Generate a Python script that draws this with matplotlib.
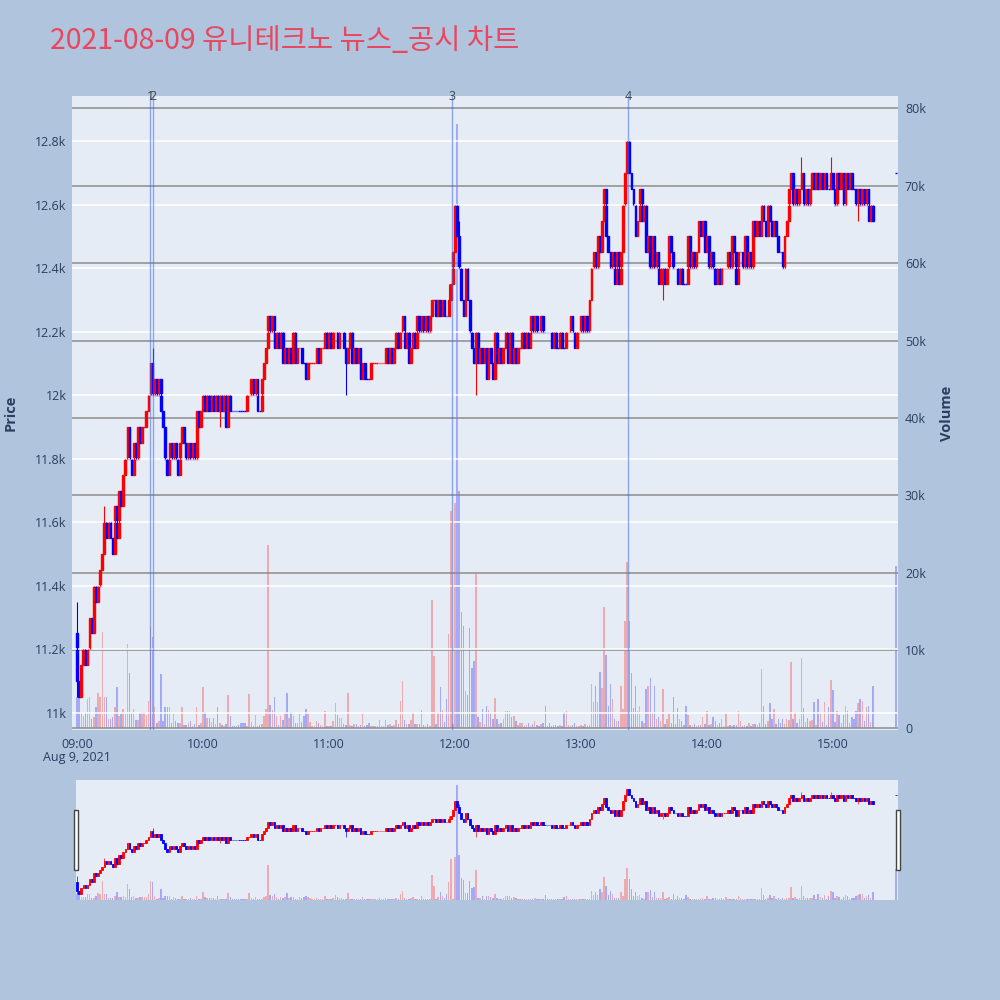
import matplotlib
matplotlib.use('Agg')
import matplotlib.pyplot as plt
from matplotlib.patches import Rectangle
import numpy as np
import pandas as pd

plt.rcParams['font.family'] = ['Open Sans', 'Noto Sans CJK KR', 'DejaVu Sans']

# 1-minute candles, 2021-08-09 09:00 ~ 15:19, plus the 15:30 closing auction
open_px = [
    11250, 11100, 11050, 11150, 11200, 11150, 11200, 11300, 11250, 11400,
    11350, 11400, 11450, 11500, 11600, 11550, 11600, 11550, 11500, 11650,
    11550, 11700, 11650, 11750, 11800, 11900, 11800, 11750, 11850, 11800,
    11900, 11850, 11900, 11900, 11950, 12000, 12100, 12000, 12050, 12000,
    12050, 11950, 11900, 11800, 11750, 11850, 11800, 11850, 11800, 11750,
    11850, 11900, 11850, 11800, 11850, 11800, 11850, 11800, 11950, 11900,
    11950, 12000, 11950, 12000, 11950, 12000, 11950, 12000, 11950, 12000,
    11950, 12000, 11900, 12000, 11950, 11950, 11950, 11950, 11950, 11950,
    11950, 11950, 12000, 12000, 12050, 12000, 12050, 11950, 11950, 12050,
    12100, 12150, 12250, 12200, 12250, 12150, 12200, 12150, 12200, 12100,
    12150, 12100, 12150, 12100, 12200, 12100, 12150, 12150, 12100, 12100,
    12050, 12100, 12100, 12100, 12100, 12150, 12100, 12150, 12150, 12200,
    12150, 12200, 12150, 12200, 12200, 12150, 12200, 12200, 12150, 12100,
    12150, 12200, 12100, 12150, 12100, 12150, 12050, 12100, 12050, 12050,
    12050, 12100, 12100, 12100, 12100, 12100, 12100, 12100, 12150, 12100,
    12150, 12100, 12150, 12200, 12150, 12200, 12250, 12150, 12200, 12100,
    12150, 12200, 12150, 12250, 12200, 12250, 12200, 12250, 12200, 12250,
    12300, 12300, 12250, 12300, 12250, 12300, 12250, 12250, 12300, 12350,
    12450, 12600, 12500, 12400, 12300, 12250, 12400, 12300, 12200, 12150,
    12100, 12200, 12100, 12150, 12100, 12150, 12050, 12150, 12100, 12050,
    12200, 12100, 12150, 12100, 12150, 12200, 12100, 12200, 12100, 12150,
    12100, 12150, 12150, 12200, 12150, 12200, 12150, 12250, 12200, 12250,
    12200, 12200, 12250, 12200, 12200, 12200, 12200, 12150, 12200, 12150,
    12150, 12200, 12150, 12150, 12200, 12200, 12250, 12200, 12150, 12200,
    12200, 12250, 12200, 12250, 12200, 12300, 12400, 12450, 12400, 12500,
    12450, 12550, 12650, 12500, 12450, 12400, 12450, 12350, 12450, 12350,
    12450, 12600, 12700, 12800, 12700, 12650, 12600, 12500, 12550, 12650,
    12550, 12600, 12450, 12500, 12400, 12500, 12400, 12450, 12350, 12400,
    12400, 12350, 12400, 12500, 12450, 12400, 12400, 12350, 12400, 12350,
    12350, 12350, 12500, 12400, 12450, 12400, 12450, 12550, 12500, 12550,
    12450, 12500, 12400, 12450, 12400, 12350, 12400, 12350, 12400, 12400,
    12400, 12450, 12400, 12500, 12450, 12350, 12450, 12450, 12400, 12500,
    12400, 12450, 12400, 12550, 12500, 12550, 12500, 12600, 12550, 12500,
    12600, 12550, 12500, 12550, 12500, 12450, 12450, 12400, 12500, 12550,
    12650, 12700, 12600, 12650, 12600, 12650, 12700, 12600, 12650, 12600,
    12650, 12700, 12650, 12700, 12650, 12700, 12650, 12700, 12650, 12650,
    12700, 12650, 12600, 12700, 12650, 12700, 12600, 12700, 12650, 12700,
    12650, 12650, 12600, 12650, 12600, 12650, 12600, 12650, 12550, 12600,
    12700,
]
close_px = [
    11100, 11050, 11150, 11200, 11150, 11200, 11300, 11250, 11400, 11350,
    11400, 11450, 11500, 11600, 11550, 11600, 11550, 11500, 11650, 11550,
    11700, 11650, 11750, 11800, 11900, 11800, 11750, 11850, 11800, 11900,
    11850, 11900, 11900, 11950, 12000, 12100, 12000, 12050, 12000, 12050,
    11950, 11900, 11800, 11750, 11850, 11800, 11850, 11800, 11750, 11850,
    11900, 11850, 11800, 11850, 11800, 11850, 11800, 11950, 11900, 11950,
    12000, 11950, 12000, 11950, 12000, 11950, 12000, 11950, 12000, 11950,
    12000, 11900, 12000, 11950, 11950, 11950, 11950, 11950, 11950, 11950,
    11950, 12000, 12000, 12050, 12000, 12050, 11950, 11950, 12050, 12100,
    12150, 12250, 12200, 12250, 12150, 12200, 12150, 12200, 12100, 12150,
    12100, 12150, 12100, 12200, 12100, 12150, 12150, 12100, 12100, 12050,
    12100, 12100, 12100, 12100, 12150, 12100, 12150, 12150, 12200, 12150,
    12200, 12150, 12200, 12200, 12150, 12200, 12200, 12150, 12100, 12150,
    12200, 12100, 12150, 12100, 12150, 12050, 12100, 12050, 12050, 12050,
    12100, 12100, 12100, 12100, 12100, 12100, 12100, 12150, 12100, 12150,
    12100, 12150, 12200, 12150, 12200, 12250, 12150, 12200, 12100, 12150,
    12200, 12150, 12250, 12200, 12250, 12200, 12250, 12200, 12250, 12300,
    12300, 12250, 12300, 12250, 12300, 12250, 12250, 12300, 12350, 12450,
    12600, 12500, 12400, 12300, 12250, 12400, 12300, 12200, 12150, 12100,
    12200, 12100, 12150, 12100, 12150, 12050, 12150, 12100, 12050, 12200,
    12100, 12150, 12100, 12150, 12200, 12100, 12200, 12100, 12150, 12100,
    12150, 12150, 12200, 12150, 12200, 12150, 12250, 12200, 12250, 12200,
    12200, 12250, 12200, 12200, 12200, 12200, 12150, 12200, 12150, 12150,
    12200, 12150, 12150, 12200, 12200, 12250, 12200, 12150, 12200, 12200,
    12250, 12200, 12250, 12200, 12300, 12400, 12450, 12400, 12500, 12450,
    12550, 12650, 12500, 12450, 12400, 12450, 12350, 12450, 12350, 12450,
    12600, 12700, 12800, 12700, 12650, 12600, 12500, 12550, 12650, 12550,
    12600, 12450, 12500, 12400, 12500, 12400, 12450, 12350, 12400, 12400,
    12350, 12400, 12500, 12450, 12400, 12400, 12350, 12400, 12350, 12350,
    12350, 12500, 12400, 12450, 12400, 12450, 12550, 12500, 12550, 12450,
    12500, 12400, 12450, 12400, 12350, 12400, 12350, 12400, 12400, 12400,
    12450, 12400, 12500, 12450, 12350, 12450, 12450, 12400, 12500, 12400,
    12450, 12400, 12550, 12500, 12550, 12500, 12600, 12550, 12500, 12600,
    12550, 12500, 12550, 12500, 12450, 12450, 12400, 12500, 12550, 12650,
    12700, 12600, 12650, 12600, 12650, 12700, 12600, 12650, 12600, 12650,
    12700, 12650, 12700, 12650, 12700, 12650, 12700, 12650, 12650, 12700,
    12650, 12600, 12700, 12650, 12700, 12600, 12700, 12650, 12700, 12650,
    12650, 12600, 12650, 12600, 12650, 12600, 12650, 12550, 12600, 12550,
    12700,
]
volume = [
    4000, 4000, 2100, 1500, 2000, 3800, 4000, 1200, 1400, 2700,
    4500, 4000, 12400, 4000, 4000, 1200, 1200, 1400, 2700, 5300,
    1600, 1800, 2500, 1800, 10800, 7100, 2000, 2500, 1000, 1000,
    1900, 2100, 2100, 1700, 3500, 13000, 11700, 2700, 600, 900,
    7000, 900, 2700, 2700, 2700, 600, 1900, 900, 600, 600,
    2700, 400, 400, 600, 900, 300, 500, 2700, 400, 600,
    5300, 2100, 1300, 1300, 800, 1250, 500, 2750, 600, 400,
    200, 500, 4200, 1500, 300, 200, 200, 400, 600, 600,
    600, 300, 4400, 800, 200, 1700, 300, 400, 500, 1500,
    2500, 23600, 3000, 2300, 4000, 1500, 400, 1500, 1000, 2100,
    4500, 1250, 2100, 1500, 600, 600, 2100, 800, 1500, 2500,
    1900, 800, 200, 300, 950, 600, 400, 300, 2200, 300,
    200, 300, 950, 3200, 1700, 1250, 1250, 500, 400, 4500,
    400, 260, 500, 500, 300, 400, 1900, 300, 400, 600,
    300, 300, 200, 300, 1000, 300, 200, 1000, 400, 500,
    300, 400, 1000, 500, 3500, 6000, 1000, 500, 500, 1000,
    2100, 500, 500, 500, 2300, 400, 300, 500, 300, 16500,
    9300, 500, 2100, 5300, 2300, 800, 3700, 12100, 28000, 500,
    29000, 78000, 30600, 15000, 13200, 4800, 4200, 12900, 7700, 8600,
    19900, 1400, 800, 2500, 500, 2800, 2300, 1900, 1200, 3900,
    1200, 500, 600, 1200, 2200, 2200, 2200, 1400, 1500, 900,
    400, 700, 700, 300, 400, 700, 300, 500, 900, 400,
    300, 500, 700, 2900, 300, 700, 300, 400, 400, 300,
    400, 300, 2000, 2200, 400, 300, 400, 700, 300, 300,
    400, 300, 500, 300, 400, 5700, 3400, 5400, 3400, 7200,
    5200, 15600, 9400, 2900, 5700, 3700, 1200, 900, 900, 5400,
    2500, 13800, 21400, 13800, 7100, 2600, 5400, 2200, 2900, 900,
    600, 5000, 5400, 6500, 1900, 5400, 1200, 1400, 900, 5000,
    500, 1200, 1900, 600, 4000, 500, 2600, 1200, 900, 400,
    2900, 1700, 400, 300, 500, 300, 400, 400, 1400, 500,
    2200, 400, 500, 1400, 900, 400, 700, 1200, 300, 1900,
    300, 400, 200, 400, 400, 2200, 900, 300, 400, 300,
    700, 300, 500, 500, 400, 700, 7600, 2900, 500, 900,
    3200, 1200, 2400, 500, 1200, 600, 1200, 500, 1200, 1000,
    8500, 1200, 2000, 600, 1200, 9000, 2600, 800, 1300, 900,
    1000, 3400, 400, 3700, 1900, 800, 3300, 400, 2700, 6200,
    4900, 800, 2200, 1700, 700, 1700, 2900, 2200, 600, 1400,
    1200, 2200, 3200, 3700, 3500, 900, 2700, 2900, 800, 5400,
    20900,
]
# candles whose wicks reach beyond the body (minute index after 09:00)
wick_min = [0, 13, 36, 68, 92, 128, 161, 177, 182, 190, 279, 345, 359, 372]
wick_high = [11350, 11650, 12150, 12000, 12250, 12150, 12200, 12350, 12550, 12200, 12400, 12750, 12750, 12650]
wick_low = [11050, 11500, 12000, 11900, 12200, 12000, 12150, 12250, 12400, 12000, 12300, 12650, 12650, 12550]

news_labels = ['1', '2', '3', '4']
news_times = ['09:34:50', '09:36:10', '11:58:35', '13:22:25']

title = '2021-08-09 유니테크노 뉴스_공시 차트'

# ---- time axis (minutes after 09:00) ----
day = pd.Timestamp('2021-08-09 09:00')
times = list(pd.date_range(day, periods=380, freq='min')) + [pd.Timestamp('2021-08-09 15:30')]
x = np.array([(t - day).total_seconds() / 60 for t in times])
news_x = [(pd.Timestamp('2021-08-09 ' + s) - day).total_seconds() / 60 for s in news_times]

o = np.array(open_px, float)
c = np.array(close_px, float)
hi = np.maximum(o, c)
lo = np.minimum(o, c)
for m, h, l in zip(wick_min, wick_high, wick_low):
    hi[m] = max(hi[m], h)
    lo[m] = min(lo[m], l)

up = []
prev = False
for a, b in zip(o, c):
    d = prev if a == b else (b > a)
    up.append(d)
    prev = d
cc = ['red' if u else 'blue' for u in up]
vc = [(1, 0, 0, 0.28) if u else (0, 0, 1, 0.28) for u in up]

PLOT_BG = '#E5ECF6'
TXT = '#2a3f5f'
P_LIM = (10946, 12942)
V_LIM = (-260, 81550)


def draw(axp, axv, body_w, lw, vol_w):
    axv.bar(x, volume, width=vol_w, color=vc, linewidth=0)
    axp.vlines(x, lo, hi, colors=cc, linewidth=lw * 0.8)
    axp.bar(x, c - o, bottom=o, width=body_w, color=cc, edgecolor=cc, linewidth=lw)


fig = plt.figure(figsize=(10, 10), dpi=100)
fig.patch.set_facecolor('#B0C4DE')

ax = fig.add_axes([0.072, 0.27, 0.826, 0.634])
axv = ax.twinx()
ax.set_zorder(axv.get_zorder() + 1)
ax.patch.set_visible(False)
axv.patch.set_visible(True)
axv.set_facecolor(PLOT_BG)

draw(ax, axv, 0.8, 1.0, 0.7)

ax.set_xlim(-2.4, 391)
ax.set_ylim(*P_LIM)
axv.set_ylim(*V_LIM)

p_ticks = list(range(11000, 12801, 200))
ax.set_yticks(p_ticks)
ax.set_yticklabels([f'{v / 1000:g}k' for v in p_ticks])
v_ticks = list(range(0, 80001, 10000))
axv.set_yticks(v_ticks)
axv.set_yticklabels(['0' if v == 0 else f'{v // 1000}k' for v in v_ticks])
h_ticks = list(range(0, 361, 60))
ax.set_xticks(h_ticks)
ax.set_xticklabels([times[m].strftime('%H:%M') for m in h_ticks])

for a in (ax, axv):
    for s in a.spines.values():
        s.set_visible(False)
    a.tick_params(length=0, labelsize=9, labelcolor=TXT)
ax.tick_params(axis='y', pad=4)
ax.tick_params(axis='x', pad=6)
axv.tick_params(axis='y', pad=5)

ax.yaxis.grid(True, color='white', linewidth=1.1)
axv.yaxis.grid(True, color='#8c8c8c', linewidth=1.1)
ax.xaxis.grid(False)
axv.xaxis.grid(False)

ax.set_ylabel('Price', fontsize=10.5, color=TXT, fontweight='bold')
ax.yaxis.set_label_coords(-0.066, 0.5)
axv.set_ylabel('Volume', fontsize=10.5, color=TXT, fontweight='bold')
axv.yaxis.set_label_coords(1.051, 0.5)

for lab, nx in zip(news_labels, news_x):
    ax.axvline(nx, color='royalblue', alpha=0.55, linewidth=1)
    ax.text(nx, 1.0, lab, transform=ax.get_xaxis_transform(), ha='center',
            va='center', fontsize=9, color='#444444', clip_on=False)

fig.text(0.077, 1 - 0.758, 'Aug 9, 2021', ha='center', va='center', fontsize=9, color=TXT)
fig.text(0.05, 0.959, title, ha='left', va='center', fontsize=20.5,
         color='#E8475F', family=['Noto Sans CJK KR', 'DejaVu Sans'])

# range slider
sl = fig.add_axes([0.076, 0.10, 0.822, 0.12])
slv = sl.twinx()
sl.set_zorder(slv.get_zorder() + 1)
sl.patch.set_visible(False)
slv.patch.set_visible(True)
slv.set_facecolor(PLOT_BG)
draw(sl, slv, 0.8, 0.6, 0.7)
sl.set_xlim(-0.5, 391)
sl.set_ylim(*P_LIM)
slv.set_ylim(*V_LIM)
for a in (sl, slv):
    a.set_xticks([])
    a.set_yticks([])
    for s in a.spines.values():
        s.set_visible(False)

for hx in (0.0735, 0.8955):
    fig.patches.append(Rectangle((hx, 0.13), 0.0045, 0.06, transform=fig.transFigure,
                                 facecolor='white', edgecolor='#444444', linewidth=1))

fig.savefig('out.png', dpi=100, facecolor=fig.get_facecolor())
